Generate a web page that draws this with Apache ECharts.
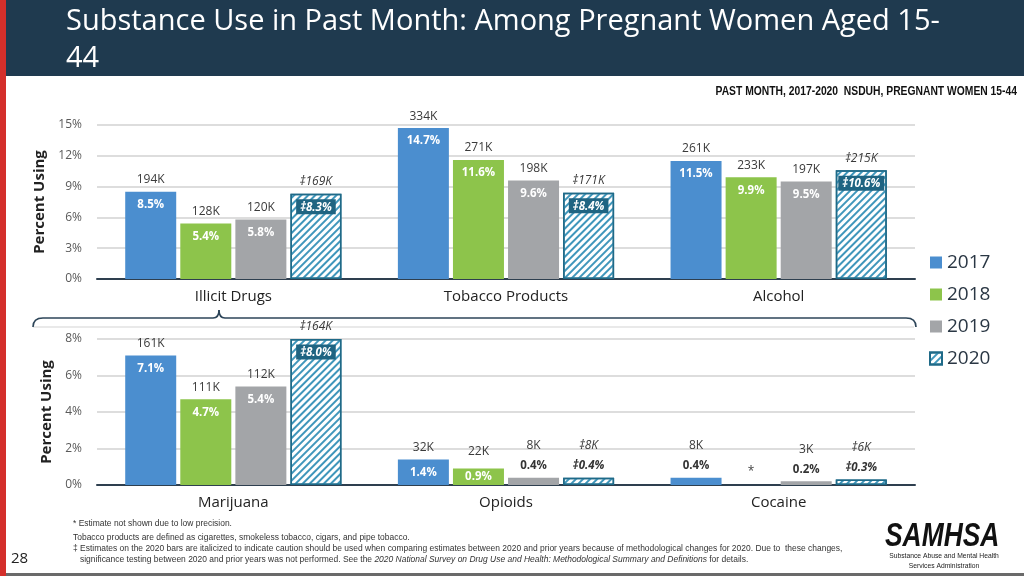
<!DOCTYPE html>
<html>
<head>
<meta charset="utf-8">
<script src="https://cdn.jsdelivr.net/npm/echarts@6/dist/echarts.min.js"></script>
<style>
html,body{margin:0;padding:0;background:#fff;}
#chart{width:1024px;height:576px;}
</style>
</head>
<body>
<div id="chart"></div>
<script>
// ---- data ----
const years = ['2017', '2018', '2019', '2020'];
const topCategories = ['Illicit Drugs', 'Tobacco Products', 'Alcohol'];
const bottomCategories = ['Marijuana', 'Opioids', 'Cocaine'];
// percent using, one array per year (index matches years)
const topPercent = [
  [8.5, 14.7, 11.5],
  [5.4, 11.6, 9.9],
  [5.8, 9.6, 9.5],
  [8.3, 8.4, 10.6]
];
const topCount = [
  ['194K', '334K', '261K'],
  ['128K', '271K', '233K'],
  ['120K', '198K', '197K'],
  ['169K', '171K', '215K']
];
const bottomPercent = [
  [7.1, 1.4, 0.4],
  [4.7, 0.9, null],
  [5.4, 0.4, 0.2],
  [8.0, 0.4, 0.3]
];
const bottomCount = [
  ['161K', '32K', '8K'],
  ['111K', '22K', null],
  ['112K', '8K', '3K'],
  ['164K', '8K', '6K']
];
const topTicks = {min: 0, max: 15, interval: 3};
const bottomTicks = {min: 0, max: 8, interval: 2};

// ---- styles ----
const FONT = "'Open Sans', 'Noto Sans', sans-serif";
const NARROW = "'Liberation Sans', Arial, sans-serif";
const yearColors = ['#4b8ecf', '#8dc44b', '#a3a5a8', '#ffffff'];
const hatch = {
  symbol: 'rect',
  symbolSize: 1,
  dashArrayX: [1, 0],
  dashArrayY: [2, 3],
  rotation: -Math.PI / 4,
  color: '#3f96bb'
};

const rich = {
  c:   {fontFamily: FONT, fontSize: 12, color: '#3a3a3a', lineHeight: 24},
  ci:  {fontFamily: FONT, fontSize: 12, color: '#3a3a3a', lineHeight: 24, fontStyle: 'italic'},
  cs:  {fontFamily: FONT, fontSize: 12, color: '#3a3a3a', lineHeight: 22},
  csi: {fontFamily: FONT, fontSize: 12, color: '#3a3a3a', lineHeight: 22, fontStyle: 'italic'},
  p:   {fontFamily: FONT, fontSize: 11.5, color: '#ffffff', fontWeight: 'bold', lineHeight: 26},
  b:   {fontFamily: FONT, fontSize: 11.5, color: '#ffffff', fontWeight: 'bold', fontStyle: 'italic',
        lineHeight: 26, backgroundColor: '#1f6482', padding: [2, 4, 1, 4]},
  d:   {fontFamily: FONT, fontSize: 11.5, color: '#333333', fontWeight: 'bold', lineHeight: 18},
  di:  {fontFamily: FONT, fontSize: 11.5, color: '#333333', fontWeight: 'bold', fontStyle: 'italic', lineHeight: 18},
  s:   {fontFamily: FONT, fontSize: 12, color: '#444444', lineHeight: 12}
};

function buildItems(percents, counts, y) {
  const is2020 = (y === 3);
  const mark = is2020 ? '\u2021' : '';
  return percents.map((v, i) => {
    if (v === null) {
      return {value: 0, label: {show: true, position: 'top', distance: 7, formatter: '{s|*}', rich: rich}};
    }
    const pctTxt = mark + v.toFixed(1) + '%';
    const cntTxt = mark + counts[i];
    if (v < 0.6) {
      return {
        value: v,
        label: {show: true, position: 'top', distance: 3, rich: rich,
          formatter: '{' + (is2020 ? 'csi' : 'cs') + '|' + cntTxt + '}\n{' + (is2020 ? 'di' : 'd') + '|' + pctTxt + '}'}
      };
    }
    const off = v < 1 ? 21.5 : 26;
    return {
      value: v,
      label: {show: true, position: 'top', distance: 0, offset: [0, off], rich: rich,
        formatter: '{' + (is2020 ? 'ci' : 'c') + '|' + cntTxt + '}\n{' + (is2020 ? 'b' : 'p') + '|' + pctTxt + '}'}
    };
  });
}

const series = [];
[0, 1].forEach(g => {
  years.forEach((yr, y) => {
    const pcts = g === 0 ? topPercent[y] : bottomPercent[y];
    const cnts = g === 0 ? topCount[y] : bottomCount[y];
    const itemStyle = y === 3
      ? {color: '#ffffff', borderColor: '#1f6a88', borderWidth: 1.5, decal: hatch}
      : {color: yearColors[y]};
    series.push({
      name: yr,
      type: 'bar',
      xAxisIndex: g,
      yAxisIndex: g,
      barWidth: 51,
      barGap: '8%',
      itemStyle: itemStyle,
      emphasis: {disabled: true},
      data: buildItems(pcts, cnts, y)
    });
  });
});

function yAxis(ticks, gap, gridIndex) {
  return {
    type: 'value', gridIndex: gridIndex,
    min: ticks.min, max: ticks.max, interval: ticks.interval,
    name: 'Percent Using', nameLocation: 'middle', nameGap: gap, nameRotate: 90,
    nameTextStyle: {fontFamily: FONT, fontSize: 15, fontWeight: 'bold', color: '#222'},
    axisLine: {show: false}, axisTick: {show: false},
    axisLabel: {formatter: '{value}%', fontFamily: FONT, fontSize: 12, color: '#5a5a5a', margin: 15},
    splitLine: {lineStyle: {color: '#d2d2d2', width: 1.5}}
  };
}
function xAxis(cats, gridIndex) {
  return {
    type: 'category', gridIndex: gridIndex, data: cats,
    axisTick: {show: false},
    axisLine: {lineStyle: {color: '#2e3f4f', width: 2}},
    axisLabel: {fontFamily: FONT, fontSize: 15, color: '#222', margin: 10}
  };
}

const braceStyle = {stroke: '#2c4458', lineWidth: 1.6, fill: null};
const noteStyle = (t) => ({text: t, font: '9px ' + NARROW, fill: '#333'});

const option = {
  animation: false,
  title: {
    text: 'Substance Use in Past Month: Among Pregnant Women Aged 15-\n44',
    left: 66, top: 3, padding: 0,
    textStyle: {fontFamily: FONT, fontSize: 29, fontWeight: 'normal', color: '#ffffff', lineHeight: 37}
  },
  legend: {
    orient: 'vertical', left: 929, top: 253, padding: 0,
    itemWidth: 12, itemHeight: 12, itemGap: 13,
    icon: 'rect',
    data: years,
    textStyle: {fontFamily: FONT, fontSize: 19, color: '#2a3744'}
  },
  grid: [
    {left: 97, right: 109, top: 125, height: 154},
    {left: 97, right: 109, top: 339, height: 146}
  ],
  xAxis: [xAxis(topCategories, 0), xAxis(bottomCategories, 1)],
  yAxis: [yAxis(topTicks, 37, 0), yAxis(bottomTicks, 30, 1)],
  series: series,
  graphic: [
    {type: 'rect', x: 0, y: 0, z: -1, shape: {x: 0, y: 0, width: 6, height: 576}, style: {fill: '#d42f2b'}},
    {type: 'rect', x: 0, y: 0, z: -1, shape: {x: 6, y: 0, width: 1018, height: 76}, style: {fill: '#1f3a4f'}},
    {type: 'rect', x: 0, y: 0, z: -1, shape: {x: 6, y: 573, width: 1018, height: 3}, style: {fill: '#6a6a6a'}},
    {type: 'text', x: 1017, y: 86, scaleX: 0.86, style: {text: 'PAST MONTH, 2017-2020  NSDUH, PREGNANT WOMEN 15-44',
      font: "bold 12px " + NARROW, fill: '#111', textAlign: 'right'}},
    {type: 'line', shape: {x1: 33, y1: 327, x2: 914, y2: 327}, style: {stroke: '#e2e2e2', lineWidth: 1.5}},
    {type: 'bezierCurve', shape: {x1: 33, y1: 327, cpx1: 33, cpy1: 318, x2: 43, y2: 318}, style: braceStyle},
    {type: 'line', shape: {x1: 43, y1: 318, x2: 213, y2: 318}, style: braceStyle},
    {type: 'bezierCurve', shape: {x1: 213, y1: 318, cpx1: 219, cpy1: 318, x2: 219, y2: 310}, style: braceStyle},
    {type: 'bezierCurve', shape: {x1: 219, y1: 310, cpx1: 219, cpy1: 318, x2: 225, y2: 318}, style: braceStyle},
    {type: 'line', shape: {x1: 225, y1: 318, x2: 906, y2: 318}, style: braceStyle},
    {type: 'bezierCurve', shape: {x1: 906, y1: 318, cpx1: 916, cpy1: 318, x2: 916, y2: 327}, style: braceStyle},
    {type: 'text', x: 73, y: 519, scaleX: 0.94, style: noteStyle('* Estimate not shown due to low precision.')},
    {type: 'text', x: 73, y: 533, scaleX: 0.94, style: noteStyle('Tobacco products are defined as cigarettes, smokeless tobacco, cigars, and pipe tobacco.')},
    {type: 'text', x: 73, y: 544, scaleX: 0.94, style: noteStyle('\u2021 Estimates on the 2020 bars are italicized to indicate caution should be used when comparing estimates between 2020 and prior years because of methodological changes for 2020. Due to  these changes,')},
    {type: 'text', x: 80, y: 555, scaleX: 0.94, style: {
      text: '{n|significance testing between 2020 and prior years was not performed. See the }{i|2020 National Survey on Drug Use and Health: Methodological Summary and Definitions}{n| for details.}',
      rich: {n: {font: '9px ' + NARROW, fill: '#333'}, i: {font: 'italic 9px ' + NARROW, fill: '#333'}}}},
    {type: 'text', x: 11, y: 551, style: {text: '28', font: '15px ' + FONT, fill: '#222'}},
    {type: 'text', x: 885, y: 520, scaleX: 0.8, style: {text: 'SAMHSA', font: 'italic bold 33px ' + NARROW, fill: '#111'}},
    {type: 'text', x: 944, y: 552, scaleX: 0.9, style: {text: 'Substance Abuse and Mental Health', font: '7.5px ' + NARROW, fill: '#222', textAlign: 'center'}},
    {type: 'text', x: 944, y: 562, scaleX: 0.9, style: {text: 'Services Administration', font: '7.5px ' + NARROW, fill: '#222', textAlign: 'center'}}
  ]
};

const chart = echarts.init(document.getElementById('chart'), null, {renderer: 'canvas'});
chart.setOption(option);
</script>
</body>
</html>
